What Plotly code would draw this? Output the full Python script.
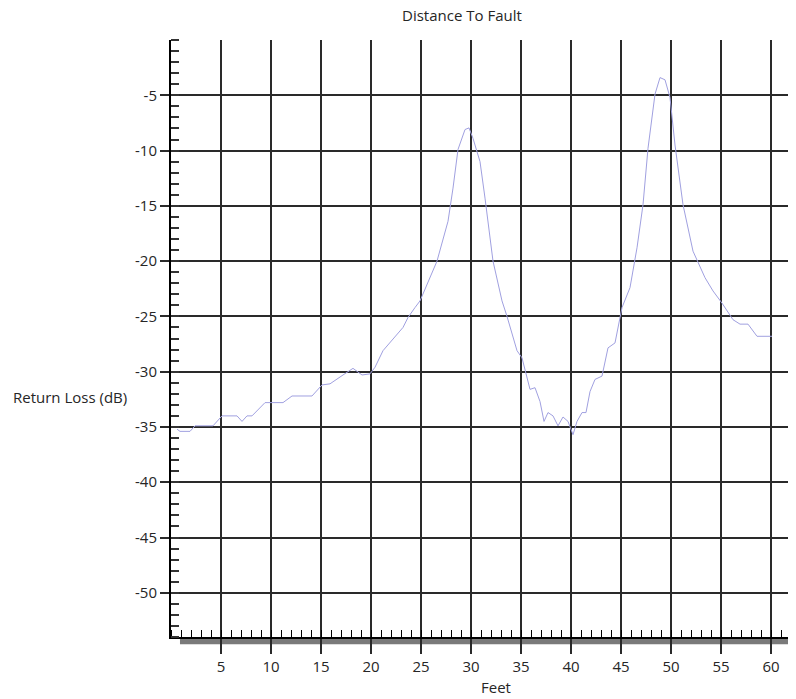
import plotly.graph_objects as go

feet = [0.6, 0.9, 1.9, 2.4, 4.2, 5.1, 6.6, 7.1, 7.6, 8.1, 9.4, 11.2, 12.1, 14.1, 15.1, 15.9,
        17.2, 18.2, 19.1, 19.9, 20.4, 21.2, 23.2, 23.7, 24.4, 24.9, 26.6, 27.7, 28.2, 28.7,
        29.4, 29.8, 30.2, 30.9, 31.4, 32.2, 33.1, 33.6, 34.6, 35.1, 35.9, 36.4, 36.9, 37.3,
        37.7, 38.2, 38.7, 39.2, 39.7, 40.2, 40.6, 41.1, 41.5, 41.9, 42.4, 43.1, 43.7, 44.4,
        45.1, 45.9, 46.6, 47.2, 47.7, 48.4, 48.9, 49.4, 49.9, 50.4, 51.2, 52.2, 53.4, 54.2,
        55.1, 56.2, 56.9, 57.7, 58.6, 60.1]
return_loss = [-35.2, -35.4, -35.4, -34.9, -34.9, -34.0, -34.0, -34.5, -34.0, -34.0, -32.8, -32.8,
               -32.2, -32.2, -31.2, -31.1, -30.3, -29.7, -30.3, -30.2, -29.6, -28.1, -26.0, -25.1,
               -24.2, -23.6, -20.0, -16.4, -13.4, -9.9, -8.1, -7.95, -8.9, -11.0, -14.3, -20.0,
               -23.6, -25.0, -28.1, -28.75, -31.6, -31.45, -32.7, -34.5, -33.7, -34.0, -34.9,
               -34.1, -34.5, -35.7, -34.5, -33.7, -33.7, -31.8, -30.7, -30.4, -27.85, -27.4,
               -24.2, -22.4, -18.8, -14.9, -9.8, -4.9, -3.4, -3.6, -5.2, -9.5, -14.9, -19.1,
               -21.5, -22.7, -23.8, -25.3, -25.7, -25.7, -26.8, -26.8]

x_ticks = [5, 10, 15, 20, 25, 30, 35, 40, 45, 50, 55, 60]
y_ticks = [-5, -10, -15, -20, -25, -30, -35, -40, -45, -50]

FONT = "Open Sans"
FS = 15
TXT = "#262626"
GRID = "#2a2a2a"

fig = go.Figure()
fig.add_trace(go.Scatter(x=feet, y=return_loss, mode="lines",
                         line=dict(color="#a0a0e0", width=1), hoverinfo="skip"))

fig.update_layout(
    width=796, height=691,
    margin=dict(l=163, r=0, t=32, b=62),
    paper_bgcolor="white", plot_bgcolor="white",
    showlegend=False,
    font=dict(family=FONT, size=FS, color=TXT),
)
fig.update_xaxes(
    range=[0, 63.3], tickvals=x_ticks, ticktext=[str(v) for v in x_ticks],
    showgrid=True, gridcolor=GRID, gridwidth=2,
    ticks="outside", ticklen=15, tickwidth=2, tickcolor=GRID,
    showline=True, linecolor="black", linewidth=2,
    zeroline=False, tickfont=dict(size=FS, color=TXT),
    minor=dict(ticks="inside", dtick=1, tick0=0, ticklen=7, tickwidth=1,
               tickcolor="black", showgrid=False),
)
fig.update_yaxes(
    range=[-54, 0], tickvals=y_ticks, ticktext=[str(v) for v in y_ticks],
    showgrid=True, gridcolor=GRID, gridwidth=2,
    ticks="outside", ticklen=9, tickwidth=2, tickcolor=GRID,
    showline=True, linecolor="black", linewidth=2,
    zeroline=False, tickfont=dict(size=FS, color=TXT),
    minor=dict(ticks="inside", dtick=1, tick0=0, ticklen=8, tickwidth=2,
               tickcolor="#333333", showgrid=False),
)

# gray band under the x axis
fig.add_shape(type="rect", xref="paper", yref="paper",
              x0=0.0142, x1=1.0, y0=-0.012, y1=0.0, line=dict(width=0),
              fillcolor="#7a7a7a", layer="below")

fig.add_annotation(text="Distance To Fault", xref="paper", yref="paper",
                   x=0.4597, y=1.0419, xanchor="center", yanchor="middle", showarrow=False,
                   font=dict(family=FONT, size=FS, color=TXT))
fig.add_annotation(text="Return Loss (dB)", xref="paper", yref="paper",
                   x=-0.1596, y=0.402, xanchor="center", yanchor="middle", showarrow=False,
                   font=dict(family=FONT, size=FS, color=TXT))
fig.add_annotation(text="Feet", xref="paper", yref="paper",
                   x=0.5134, y=-0.0838, xanchor="center", yanchor="middle", showarrow=False,
                   font=dict(family=FONT, size=FS, color=TXT))

fig.write_html("out.html")
